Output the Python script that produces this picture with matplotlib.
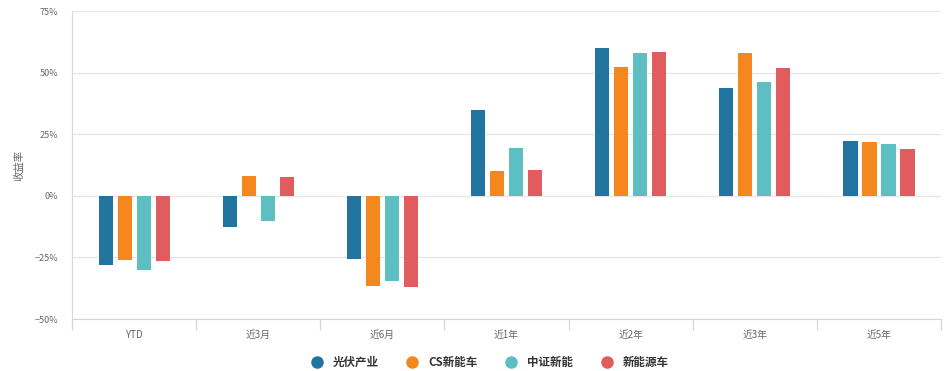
import matplotlib
matplotlib.use('Agg')
import matplotlib.pyplot as plt
from matplotlib.lines import Line2D
import numpy as np

plt.rcParams['font.family'] = ['Noto Sans CJK SC', 'DejaVu Sans']

categories = ['YTD', '近3月', '近6月', '近1年', '近2年', '近3年', '近5年']
series_names = ['光伏产业', 'CS新能车', '中证新能', '新能源车']
pv = [-28.0, -12.8, -25.6, 34.9, 60.0, 43.8, 22.3]
cs_nev = [-26.0, 8.1, -36.5, 10.1, 52.3, 58.0, 21.9]
csi_ne = [-30.0, -10.0, -34.5, 19.5, 58.0, 46.1, 21.1]
nev = [-26.6, 7.7, -37.0, 10.5, 58.4, 51.9, 19.1]
colors = ['#2174a0', '#f5871f', '#5dbfc1', '#e15c5f']

fig = plt.figure(figsize=(9.53, 3.71), dpi=100)
ax = fig.add_axes([0.0755, 0.140, 0.912, 0.830])

x = np.arange(len(categories))
width = 0.113
step = 0.153
for i, (vals, c) in enumerate(zip([pv, cs_nev, csi_ne, nev], colors)):
    ax.bar(x + (i - 1.5) * step, vals, width=width, color=c, zorder=3)

ax.set_xlim(-0.5, len(categories) - 0.5)
ax.set_ylim(-50, 75)
ax.set_yticks([-50, -25, 0, 25, 50, 75])
ax.set_yticklabels(['−50%', '−25%', '0%', '25%', '50%', '75%'])
ax.yaxis.grid(True, color='#e6e6e6', linewidth=0.9, zorder=0)
ax.tick_params(axis='y', length=0, labelsize=6.5, labelcolor='#666666', pad=10)

ax.set_xticks(x)
ax.set_xticklabels(categories)
ax.set_xticks(np.arange(-0.5, len(categories)), minor=True)
ax.tick_params(axis='x', which='major', length=0, labelsize=7, labelcolor='#666666', pad=8)
ax.tick_params(axis='x', which='minor', length=8, color='#ccd6eb', width=0.9)

for s in ['top', 'right']:
    ax.spines[s].set_visible(False)
ax.spines['left'].set_color('#d8d8d8')
ax.spines['bottom'].set_color('#ccd6eb')

ax.set_ylabel('收益率', fontsize=7.5, color='#666666', labelpad=7)

handles = [Line2D([0], [0], marker='o', linestyle='', markersize=8,
                  markerfacecolor=c, markeredgecolor=c) for c in colors]
fig.legend(handles, series_names, loc='center', bbox_to_anchor=(0.511, 0.024),
           ncol=4, frameon=False, prop={'size': 8.3, 'weight': 'bold'},
           handletextpad=0.4, columnspacing=1.9, labelcolor='#333333')

fig.savefig('out.png', dpi=100)
